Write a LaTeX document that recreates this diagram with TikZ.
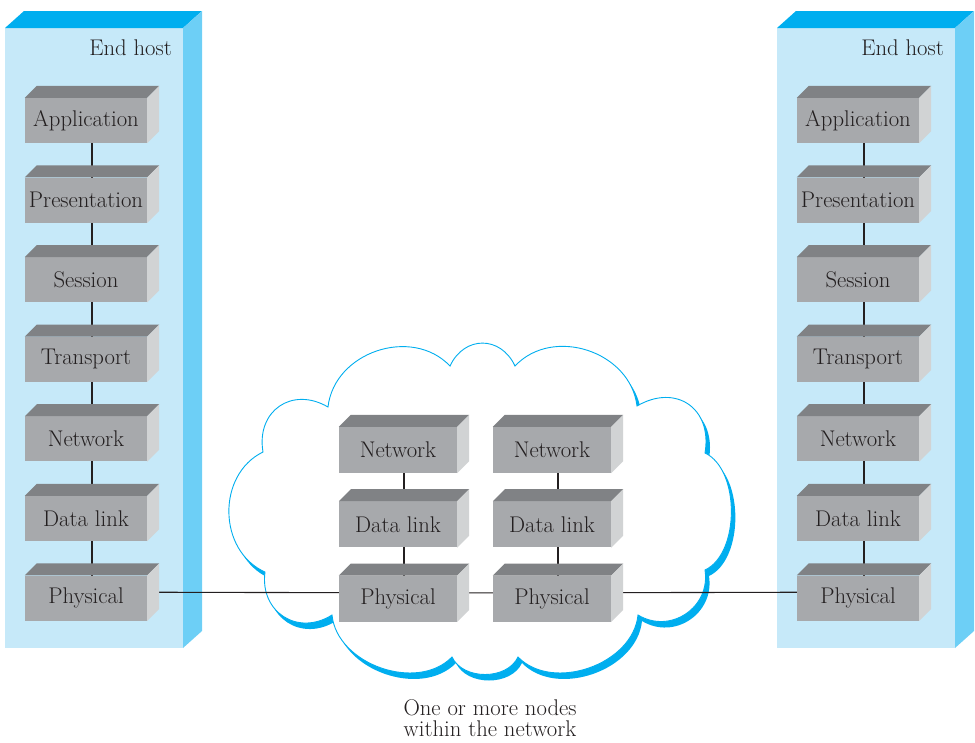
\documentclass[tikz,border=0pt]{standalone}
\usepackage{fontspec}
\usepackage{xcolor}
\usepackage{tikz}
\usetikzlibrary{positioning}

\definecolor{ink}{HTML}{231F20}
\definecolor{hostfront}{HTML}{C6E9F9}
\definecolor{hosttop}{HTML}{00AEEF}
\definecolor{hostside}{HTML}{6DCFF6}
\definecolor{layfront}{HTML}{A7A9AC}
\definecolor{laytop}{HTML}{808285}
\definecolor{layside}{HTML}{D1D3D4}
\definecolor{cloudblue}{HTML}{00AEEF}

\pgfdeclarelayer{bg}
\pgfdeclarelayer{mid}
\pgfsetlayers{bg,mid,main}

\tikzset{
  layer/.style={fill=layfront, text=ink, minimum width=122, minimum height=45, inner sep=0pt, font=\fontsize{22.7}{26}\selectfont},
  hoplayer/.style={layer, minimum width=118, minimum height=46},
  hostlabel/.style={text=ink, anchor=east, inner sep=0pt, font=\fontsize{22.7}{26}\selectfont},
  wire/.style={draw=ink, line width=1.1pt},
}

\newcommand\layerfaces[1]{%
  \fill [laytop] (#1.north west) -- ++(12,-12) -- ([shift={(12,-12)}]#1.north east) -- (#1.north east) -- cycle;
  \fill [layside] (#1.north east) -- ++(12,-12) -- ([shift={(12,-12)}]#1.south east) -- (#1.south east) -- cycle;
}

\def\cloudpath{(450,366) to [bend left=65,looseness=1.33] (515,366)
  to [bend left=65,looseness=1.1] (637,406)
  to [bend left=65,looseness=1.4] (705,453)
  to [bend left=65,looseness=0.85] (705,570)
  to [bend left=65,looseness=1.2] (638,615)
  to [bend left=65,looseness=1.0] (518,657)
  to [bend left=65,looseness=1.0] (452,657)
  to [bend left=65,looseness=1.0] (332,615)
  to [bend left=65,looseness=1.3] (265,572)
  to [bend left=65,looseness=1.1] (263,452)
  to [bend left=65,looseness=1.35] (328,407)
  to [bend left=65,looseness=1.1] (450,366) -- cycle}

\begin{document}
\begin{tikzpicture}[x=1pt,y=-1pt]
\useasboundingbox (0,0) rectangle (975,742);

\begin{pgfonlayer}{bg}
% end host panels
\foreach \x in {0,772} {
  \fill [hostfront] (5+\x,28) rectangle (183+\x,648);
  \fill [hosttop] (5+\x,28) -- (24+\x,11) -- (202+\x,11) -- (183+\x,28) -- cycle;
  \fill [hostside] (183+\x,28) -- (202+\x,11) -- (202+\x,631) -- (183+\x,648) -- cycle;
}
% network cloud
\fill [cloudblue,shift={(4,6)}] \cloudpath;
\fill [white] \cloudpath;
\draw [cloudblue,line width=0.9pt] \cloudpath;
\end{pgfonlayer}

\node [hostlabel] (lhost) at (172,48) {End host};
\node [hostlabel] (rhost) at (944,48) {End host};

\foreach \n/\t [count=\i] in {app/Application,pres/Presentation,ses/Session,tra/Transport,net/Network,dl/Data link,phy/Physical} {
  \node [layer] (l\n) at (86,40.9+79.6*\i) {\t};
  \node [layer] (r\n) at (858,40.9+79.6*\i) {\t};
}

\node [hoplayer] (hanet) at (398,450) {Network};
\node [hoplayer,below=28pt of hanet] (hadl) {Data link};
\node [hoplayer,below=28pt of hadl] (haphy) {Physical};
\node [hoplayer] (hbnet) at (552,450) {Network};
\node [hoplayer,below=28pt of hbnet] (hbdl) {Data link};
\node [hoplayer,below=28pt of hbdl] (hbphy) {Physical};

\foreach \n in {lapp,lpres,lses,ltra,lnet,ldl,lphy,rapp,rpres,rses,rtra,rnet,rdl,rphy,hanet,hadl,haphy,hbnet,hbdl,hbphy}
  \layerfaces{\n};

\begin{pgfonlayer}{mid}
\foreach \s in {l,r}
  \foreach \a/\b in {app/pres,pres/ses,ses/tra,tra/net,net/dl,dl/phy}
    \draw [wire] ([xshift=6pt]\s\a.center) -- ([xshift=6pt]\s\b.center);
\foreach \s in {ha,hb}
  \foreach \a/\b in {net/dl,dl/phy}
    \draw [wire] ([xshift=6pt]\s\a.center) -- ([xshift=6pt]\s\b.center);
\draw [wire] ([shift={(6,-6)}]lphy.center) -- ([shift={(6,-6)}]haphy.center) -- ([shift={(6,-6)}]hbphy.center) -- ([shift={(6,-6)}]rphy.center);
\end{pgfonlayer}

\node [text=ink,align=center,inner sep=0pt,font=\fontsize{22.7}{20.5}\selectfont] (caption) at (490,718) {One or more nodes\\within the network};
\end{tikzpicture}
\end{document}
